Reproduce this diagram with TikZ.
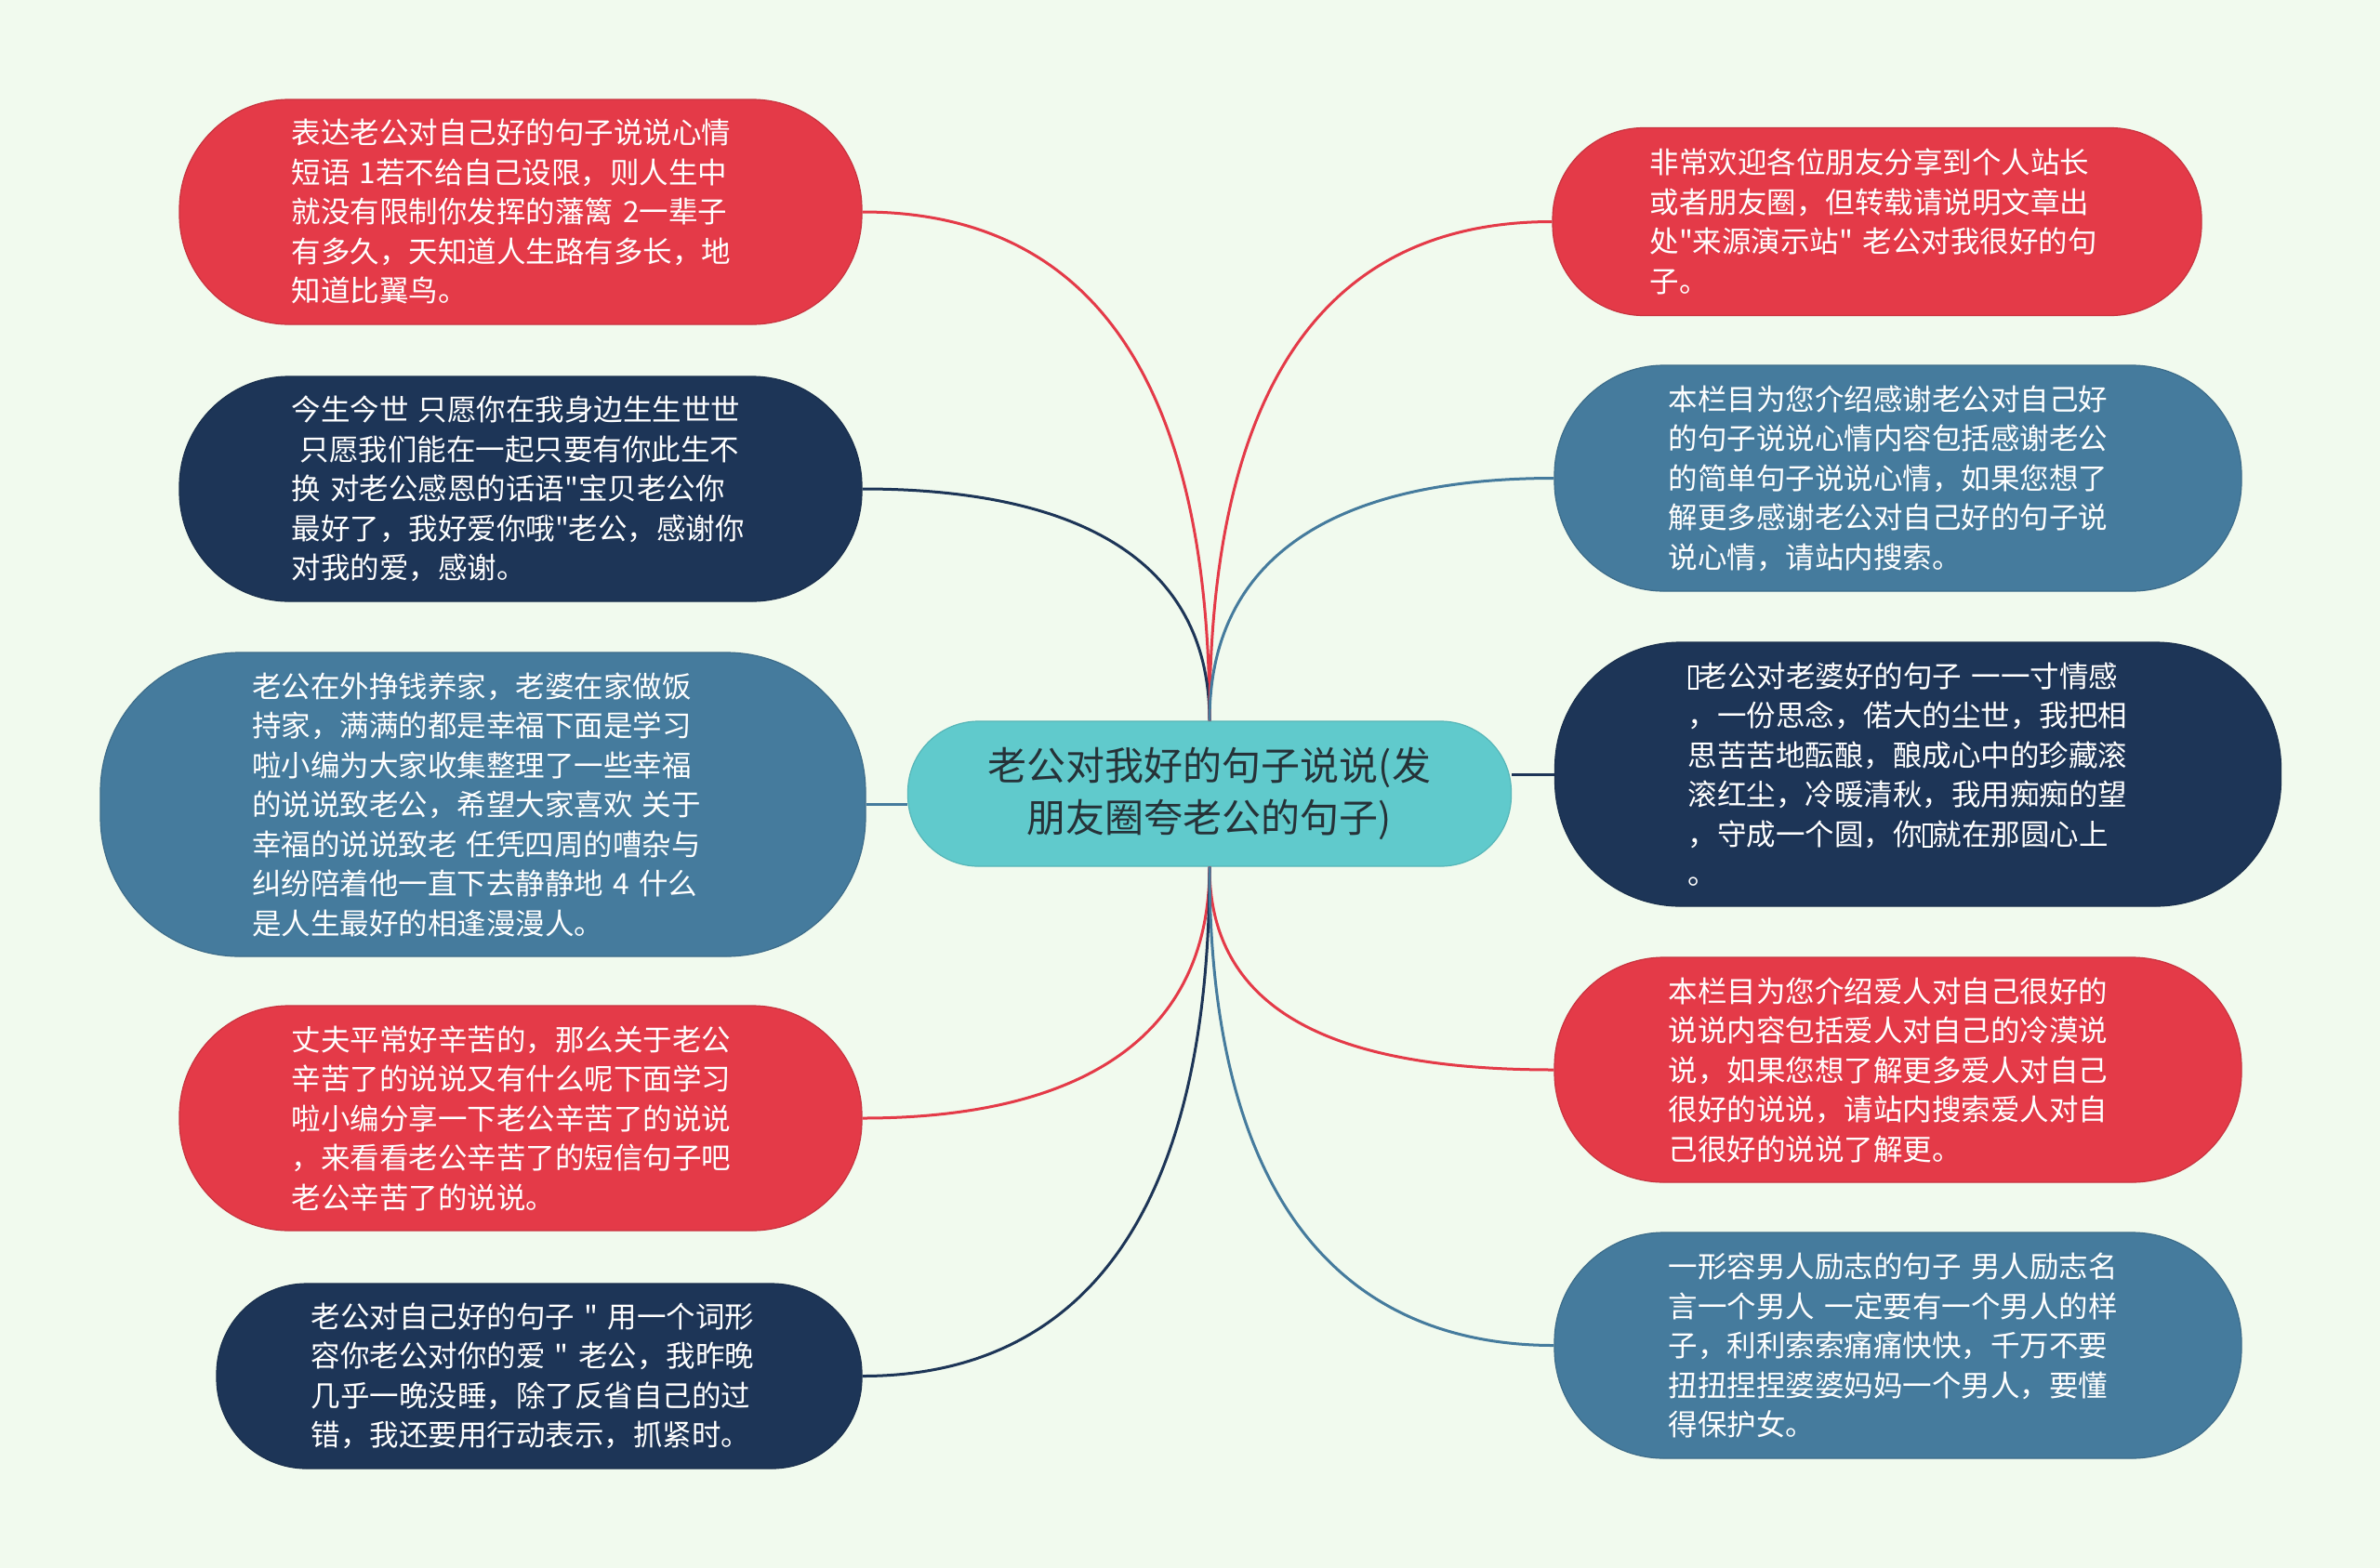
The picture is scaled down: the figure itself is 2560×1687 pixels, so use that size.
\documentclass[tikz,border=0pt]{standalone}
\usepackage{fontspec}
\setmainfont{Noto Sans CJK SC}[Ligatures=TeXOff]
\definecolor{bgc}{HTML}{F1FAEE}
\definecolor{cred}{HTML}{E43A48}
\definecolor{cnavy}{HTML}{1D3557}
\definecolor{csteel}{HTML}{457B9D}
\definecolor{cteal}{HTML}{60CACC}
\definecolor{ctext}{HTML}{263238}
\newcommand{\tofubox}{\raisebox{-1pt}{\setlength{\fboxsep}{0pt}\setlength{\fboxrule}{2pt}\fbox{\rule{0pt}{22pt}\hspace{7pt}}}}
\tikzset{
  leafbox/.style={fill=#1, draw=#1!88!black, line width=1.2pt, text=white, align=left,
    inner sep=0pt, font=\fontsize{31.5pt}{42.5pt}\selectfont},
  centerbox/.style={fill=cteal, draw=cteal!90!black, line width=1.2pt, text=ctext, align=center,
    inner sep=0pt, font=\fontsize{42pt}{55.5pt}\selectfont},
  link/.style={line width=3pt, draw=#1}
}
\begin{document}
\begin{tikzpicture}[x=1pt,y=-1pt]
\fill[bgc] (0,0) rectangle (2560,1687);
\useasboundingbox (0,0) rectangle (2560,1687);

\node[centerbox, minimum width=649pt, minimum height=156pt, rounded corners=76pt] (c) at (1301,854)
 {老公对我好的句子说说(发\\朋友圈夸老公的句子)};

% left side
\node[leafbox=cred, text width=493pt, minimum width=734pt, minimum height=242pt, rounded corners=118pt] (L1) at (560,228)
 {表达老公对自己好的句子说说心情\\短语 1若不给自己设限，则人生中\\就没有限制你发挥的藩篱 2一辈子\\有多久，天知道人生路有多长，地\\知道比翼鸟。};
\node[leafbox=cnavy, text width=493pt, minimum width=734pt, minimum height=242pt, rounded corners=118pt] (L2) at (560,526)
 {今生今世 只愿你在我身边生生世世\\\hspace*{9pt}只愿我们能在一起只要有你此生不\\换 对老公感恩的话语"宝贝老公你\\最好了，我好爱你哦"老公，感谢你\\对我的爱，感谢。};
\node[leafbox=csteel, text width=497pt, minimum width=823pt, minimum height=327pt, rounded corners=150pt] (L3) at (519.5,865.5)
 {老公在外挣钱养家，老婆在家做饭\\持家，满满的都是幸福下面是学习\\啦小编为大家收集整理了一些幸福\\的说说致老公，希望大家喜欢 关于\\幸福的说说致老 任凭四周的嘈杂与\\纠纷陪着他一直下去静静地 4 什么\\是人生最好的相逢漫漫人。};
\node[leafbox=cred, text width=493pt, minimum width=734pt, minimum height=242pt, rounded corners=118pt] (L4) at (560,1203)
 {丈夫平常好辛苦的，那么关于老公\\辛苦了的说说又有什么呢下面学习\\啦小编分享一下老公辛苦了的说说\\，来看看老公辛苦了的短信句子吧\\老公辛苦了的说说。};
\node[leafbox=cnavy, text width=491pt, minimum width=694pt, minimum height=199pt, rounded corners=97pt] (L5) at (580,1480.5)
 {老公对自己好的句子 " 用一个词形\\容你老公对你的爱 " 老公，我昨晚\\几乎一晚没睡，除了反省自己的过\\错，我还要用行动表示，抓紧时。};

% right side
\node[leafbox=cred, text width=489pt, minimum width=698pt, minimum height=202pt, rounded corners=98pt] (R1) at (2019,238.5)
 {非常欢迎各位朋友分享到个人站长\\或者朋友圈，但转载请说明文章出\\处"来源演示站" 老公对我很好的句\\子。};
\node[leafbox=csteel, text width=494pt, minimum width=739pt, minimum height=243pt, rounded corners=118pt] (R2) at (2041.5,514.5)
 {本栏目为您介绍感谢老公对自己好\\的句子说说心情内容包括感谢老公\\的简单句子说说心情，如果您想了\\解更多感谢老公对自己好的句子说\\说心情，请站内搜索。};
\node[leafbox=cnavy, text width=495pt, minimum width=781pt, minimum height=284pt, rounded corners=135pt] (R3) at (2063,833)
 {\tofubox 老公对老婆好的句子 一一寸情感\\，一份思念，偌大的尘世，我把相\\思苦苦地酝酿，酿成心中的珍藏滚\\滚红尘，冷暖清秋，我用痴痴的望\\，守成一个圆，你\tofubox 就在那圆心上\\。};
\node[leafbox=cred, text width=494pt, minimum width=739pt, minimum height=242pt, rounded corners=118pt] (R4) at (2041.5,1151)
 {本栏目为您介绍爱人对自己很好的\\说说内容包括爱人对自己的冷漠说\\说，如果您想了解更多爱人对自己\\很好的说说，请站内搜索爱人对自\\己很好的说说了解更。};
\node[leafbox=csteel, text width=494pt, minimum width=739pt, minimum height=243pt, rounded corners=118pt] (R5) at (2041.5,1447.5)
 {一形容男人励志的句子 男人励志名\\言一个男人 一定要有一个男人的样\\子，利利索索痛痛快快，千万不要\\扭扭捏捏婆婆妈妈一个男人，要懂\\得保护女。};

% connectors
\draw[link=cred]   (L1.east) .. controls +(190,0) and +(0,-440) .. (c.north);
\draw[link=cnavy]  (L2.east) .. controls +(220,0) and +(0,-180) .. (c.north);
\draw[link=csteel] (L3.east) -- (L3.east -| c.west);
\draw[link=cred]   (L4.east) .. controls +(210,0) and +(0,200) .. (c.south);
\draw[link=cnavy]  (L5.east) .. controls +(185,0) and +(0,440) .. (c.south);
\draw[link=cred]   (R1.west) .. controls +(-190,0) and +(0,-430) .. (c.north);
\draw[link=csteel] (R2.west) .. controls +(-215,0) and +(0,-190) .. (c.north);
\draw[link=cnavy]  (R3.west) -- (R3.west -| c.east);
\draw[link=cred]   (R4.west) .. controls +(-220,0) and +(0,165) .. (c.south);
\draw[link=csteel] (R5.west) .. controls +(-185,0) and +(0,410) .. (c.south);
\end{tikzpicture}
\end{document}
